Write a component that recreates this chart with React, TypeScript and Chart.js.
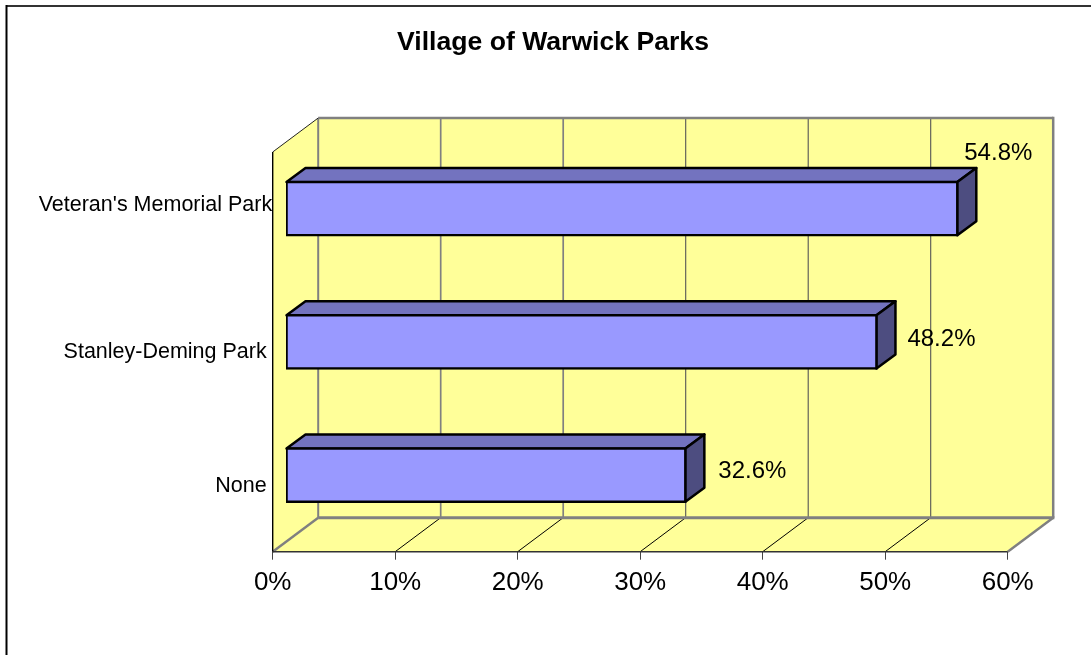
import React, { useEffect, useRef } from "react";
import { Chart, registerables } from "chart.js";

Chart.register(...registerables);

const categories = ["Veteran's Memorial Park", "Stanley-Deming Park", "None"];
const values = [54.8, 48.2, 32.6];
const axisMax = 60;
const axisStep = 10;
const chartTitle = "Village of Warwick Parks";

const FONT = "'Liberation Sans', Arial, sans-serif";
const WALL = "#FFFF99";
const WALL_EDGE = "#808080";
const BAR_FRONT = "#9999FF";
const BAR_TOP = "#7373BF";
const BAR_SIDE = "#4D4D80";

const AREA_LEFT = 272.7;
const AREA_TOP = 152;
const AREA_RIGHT = 1007.7;
const AREA_BOTTOM = 551.7;
const DEPTH_X = 45.5;
const DEPTH_Y = -34;
const BAR_SHIFT_X = 13.3;
const BAR_SHIFT_Y = -10;
const BAR_DEPTH_X = 19;
const BAR_DEPTH_Y = -14;
const TITLE_CENTER = 553;
const TITLE_SIZE = 26.6;
const LABEL_OFFSETS: [number, number][] = [
  [41, -55.5],
  [65, -2],
  [67, -4],
];

function poly(ctx: CanvasRenderingContext2D, pts: number[][]) {
  ctx.beginPath();
  pts.forEach((p, i) => (i ? ctx.lineTo(p[0], p[1]) : ctx.moveTo(p[0], p[1])));
  ctx.closePath();
}

function seg(ctx: CanvasRenderingContext2D, x1: number, y1: number, x2: number, y2: number, color: string, width: number) {
  ctx.beginPath();
  ctx.moveTo(x1, y1);
  ctx.lineTo(x2, y2);
  ctx.strokeStyle = color;
  ctx.lineWidth = width;
  ctx.stroke();
}

const box3d = {
  id: "box3d",
  afterLayout(chart: any) {
    const t = chart.titleBlock;
    const shift = TITLE_CENTER - (t.left + t.right) / 2;
    t.left += shift;
    t.right += shift;
    const y = chart.scales.y;
    const items = y.getLabelItems();
    items[0].options.translation[0] += 5.5;
    items[0].options.translation[1] -= 13.5;
    items[2].options.translation[1] += 1;
  },
  beforeDatasetsDraw(chart: any) {
    const { ctx, chartArea: a, scales } = chart;
    const x = scales.x;
    const l = a.left, r = a.right, t = a.top, b = a.bottom;
    ctx.save();
    poly(ctx, [[l, t], [l + DEPTH_X, t + DEPTH_Y], [l + DEPTH_X, b + DEPTH_Y], [l, b]]);
    ctx.fillStyle = WALL;
    ctx.fill();
    poly(ctx, [[l + DEPTH_X, t + DEPTH_Y], [r + DEPTH_X, t + DEPTH_Y], [r + DEPTH_X, b + DEPTH_Y], [l + DEPTH_X, b + DEPTH_Y]]);
    ctx.fill();
    poly(ctx, [[l, b], [l + DEPTH_X, b + DEPTH_Y], [r + DEPTH_X, b + DEPTH_Y], [r, b]]);
    ctx.fill();

    for (let v = axisStep; v < axisMax; v += axisStep) {
      const px = x.getPixelForValue(v);
      seg(ctx, px + DEPTH_X, t + DEPTH_Y, px + DEPTH_X, b + DEPTH_Y, v < 30 ? WALL_EDGE : "#555", v < 30 ? 1.7 : 1.1);
      seg(ctx, px, b, px + DEPTH_X, b + DEPTH_Y, "#000", 1);
    }
    seg(ctx, l + DEPTH_X, t + DEPTH_Y, r + DEPTH_X, t + DEPTH_Y, WALL_EDGE, 2.5);
    seg(ctx, r + DEPTH_X, t + DEPTH_Y - 1.2, r + DEPTH_X, b + DEPTH_Y, WALL_EDGE, 2.5);
    seg(ctx, l + DEPTH_X, t + DEPTH_Y, l + DEPTH_X, b + DEPTH_Y, WALL_EDGE, 2);
    seg(ctx, l + DEPTH_X, b + DEPTH_Y, r + DEPTH_X + 1.2, b + DEPTH_Y, WALL_EDGE, 3);
    seg(ctx, l, b, l + DEPTH_X, b + DEPTH_Y, WALL_EDGE, 2.4);
    seg(ctx, r, b, r + DEPTH_X, b + DEPTH_Y, WALL_EDGE, 2.4);
    seg(ctx, l, t, l + DEPTH_X, t + DEPTH_Y, "#222", 1);
    seg(ctx, l, t, l, b, "#000", 1.4);
    seg(ctx, l, b, r, b, "#333", 1.6);
    ctx.restore();
  },
  beforeDatasetDraw(chart: any, args: any) {
    const { ctx } = chart;
    const meta = args.meta;
    ctx.save();
    ctx.lineJoin = "round";
    ctx.lineWidth = 2.5;
    ctx.strokeStyle = "#000";
    meta.data.forEach((bar: any) => {
      const p = bar.getProps(["x", "y", "base", "height"], true);
      const left = p.base + BAR_SHIFT_X;
      const right = p.x + BAR_SHIFT_X;
      const top = p.y - p.height / 2 + BAR_SHIFT_Y;
      const bottom = p.y + p.height / 2 + BAR_SHIFT_Y;
      poly(ctx, [[left, top], [left + BAR_DEPTH_X, top + BAR_DEPTH_Y], [right + BAR_DEPTH_X, top + BAR_DEPTH_Y], [right, top]]);
      ctx.fillStyle = BAR_TOP;
      ctx.fill();
      ctx.stroke();
      poly(ctx, [[right, top], [right + BAR_DEPTH_X, top + BAR_DEPTH_Y], [right + BAR_DEPTH_X, bottom + BAR_DEPTH_Y], [right, bottom]]);
      ctx.fillStyle = BAR_SIDE;
      ctx.fill();
      ctx.stroke();
    });
    ctx.restore();
    ctx.save();
    ctx.translate(BAR_SHIFT_X, BAR_SHIFT_Y);
  },
  afterDatasetDraw(chart: any, args: any) {
    const { ctx } = chart;
    ctx.restore();
    ctx.save();
    ctx.fillStyle = "#000";
    ctx.font = `24px ${FONT}`;
    ctx.textAlign = "center";
    ctx.textBaseline = "middle";
    args.meta.data.forEach((bar: any, i: number) => {
      const p = bar.getProps(["x", "y"], true);
      const o = LABEL_OFFSETS[i];
      ctx.fillText(
        `${values[i].toFixed(1)}%`,
        p.x + BAR_SHIFT_X + o[0],
        p.y + BAR_SHIFT_Y + o[1]
      );
    });
    ctx.restore();
  },
  afterDraw(chart: any) {
    const { ctx } = chart;
    ctx.save();
    seg(ctx, 6, 6, 1091, 6, "#333", 2);
    seg(ctx, 6.5, 5, 6.5, 655, "#000", 2);
    ctx.restore();
  },
};

export default function App() {
  const ref = useRef<HTMLCanvasElement>(null);
  useEffect(() => {
    const chart = new Chart(ref.current as HTMLCanvasElement, {
      type: "bar",
      data: {
        labels: categories,
        datasets: [
          {
            data: values,
            backgroundColor: BAR_FRONT,
            borderColor: "#000",
            borderWidth: 2.5,
            borderSkipped: false,
            inflateAmount: 1.25,
            barPercentage: 0.4,
            categoryPercentage: 1,
          },
        ],
      },
      options: {
        indexAxis: "y",
        responsive: false,
        animation: false,
        layout: { padding: { top: 0, left: 0, bottom: 0, right: 1091 - AREA_RIGHT } },
        plugins: {
          legend: { display: false },
          tooltip: { enabled: false },
          title: {
            display: true,
            text: chartTitle,
            color: "#000",
            font: { family: FONT, size: TITLE_SIZE, weight: "bold" },
            padding: { top: 26.5, bottom: AREA_TOP - 26.5 - TITLE_SIZE * 1.2 },
          },
        },
        scales: {
          x: {
            min: 0,
            max: axisMax,
            ticks: {
              stepSize: axisStep,
              color: "#000",
              padding: 8,
              maxRotation: 0,
              font: { family: FONT, size: 26 },
              callback: (v: any) => `${v}%`,
            },
            grid: { drawOnChartArea: false, drawTicks: true, tickLength: 8, color: "#444" },
            border: { display: false },
            afterFit: (s: any) => {
              s.height = 655 - AREA_BOTTOM;
            },
          },
          y: {
            ticks: {
              color: "#000",
              padding: 6,
              font: { family: FONT, size: 21.5 },
            },
            grid: { display: false, drawTicks: false },
            border: { display: false },
            afterFit: (s: any) => {
              s.width = AREA_LEFT;
            },
          },
        },
      },
      plugins: [box3d],
    } as any);
    return () => chart.destroy();
  }, []);
  return (
    <div style={{ position: "absolute", left: 0, top: 0, width: 1091, height: 655, background: "#fff" }}>
      <canvas ref={ref} width={1091} height={655} style={{ display: "block" }} />
    </div>
  );
}
